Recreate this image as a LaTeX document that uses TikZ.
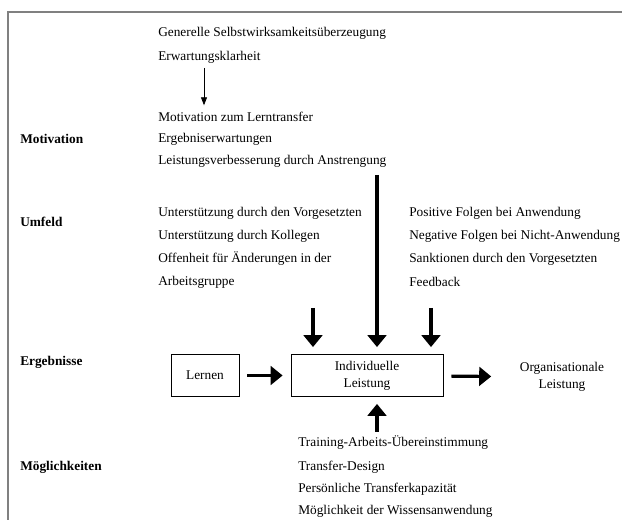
\documentclass[tikz,border=0pt]{standalone}
\usepackage{fontspec}
\setmainfont{Liberation Serif}
\usetikzlibrary{arrows.meta}

\begin{document}
\begin{tikzpicture}[x=0.75pt,y=-0.75pt]
\tikzstyle{every node}=[font=\fontsize{10}{13}\selectfont]
\tikzstyle{item}=[anchor=west,inner sep=0pt]
\tikzstyle{head}=[item,font=\fontsize{10}{13}\selectfont\bfseries]
\tikzstyle{block}=[draw,line width=0.6pt,minimum height=32pt,align=center]
\tikzstyle{smallarrow}=[-{Triangle[length=6pt,width=4.5pt]},line width=0.6pt]
\tikzstyle{bigarrow}=[-{Triangle[length=9pt,width=14pt]},line width=2.4pt]
\useasboundingbox (0,0) rectangle (622,520);
\draw[gray,line width=1.1pt] (622,12) -- (8,12) -- (8,520);

% row labels
\node[head] (hmot) at (20,139) {Motivation};
\node[head] (humf) at (20,222) {Umfeld};
\node[head] (herg) at (20,362) {Ergebnisse};
\node[head] (hmoe) at (20,467) {Möglichkeiten};

% motivation
\node[item] (gen) at (158,33) {Generelle Selbstwirksamkeitsüberzeugung};
\node[item] (erw) at (158,57) {Erwartungsklarheit};
\node[item] (mzl) at (158,117) {Motivation zum Lerntransfer};
\node[item] (erg) at (158,139) {Ergebniserwartungen};
\node[item] (lda) at (158,161) {Leistungsverbesserung durch Anstrengung};

% umfeld
\node[item] (uvg) at (158,213) {Unterstützung durch den Vorgesetzten};
\node[item] (ukl) at (158,236) {Unterstützung durch Kollegen};
\node[item] (off) at (158,259) {Offenheit für Änderungen in der};
\node[item] (agr) at (158,282) {Arbeitsgruppe};
\node[item] (pfa) at (409,213) {Positive Folgen bei Anwendung};
\node[item] (nfa) at (409,236) {Negative Folgen bei Nicht-Anwendung};
\node[item] (sdv) at (409,259) {Sanktionen durch den Vorgesetzten};
\node[item] (fb) at (409,282) {Feedback};

% ergebnisse
\node[block,minimum width=51pt] (lern) at (205,375.5) {Lernen};
\node[block,minimum width=114pt] (ind) at (367,375.5) {Individuelle\\Leistung};
\node[align=center] (org) at (562,377) {Organisationale\\Leistung};

% moeglichkeiten
\node[item] (tau) at (298,443) {Training-Arbeits-Übereinstimmung};
\node[item] (tde) at (298,467) {Transfer-Design};
\node[item] (ptk) at (298,489) {Persönliche Transferkapazität};
\node[item] (mdw) at (298,511) {Möglichkeit der Wissensanwendung};

\coordinate (c1) at (204,68);
\coordinate (c2) at (377,175);
\coordinate (c3) at (313,308);
\coordinate (c4) at (431,308);
\coordinate (c5) at (377,432);

\draw[smallarrow,shorten >=5pt] (c1) -- (c1 |- mzl.north);
\draw[bigarrow,shorten >=5pt] (c2) -- (c2 |- ind.north);
\draw[bigarrow,shorten >=5pt] (c3) -- (c3 |- ind.north);
\draw[bigarrow,shorten >=5pt] (c4) -- (c4 |- ind.north);
\draw[bigarrow,shorten >=5pt] (c5) -- (c5 |- ind.south);
\draw[bigarrow,shorten <=6pt,shorten >=6pt] (lern) -- (ind);
\draw[bigarrow,shorten <=6pt,shorten >=18pt] (ind) -- (org);
\end{tikzpicture}
\end{document}
